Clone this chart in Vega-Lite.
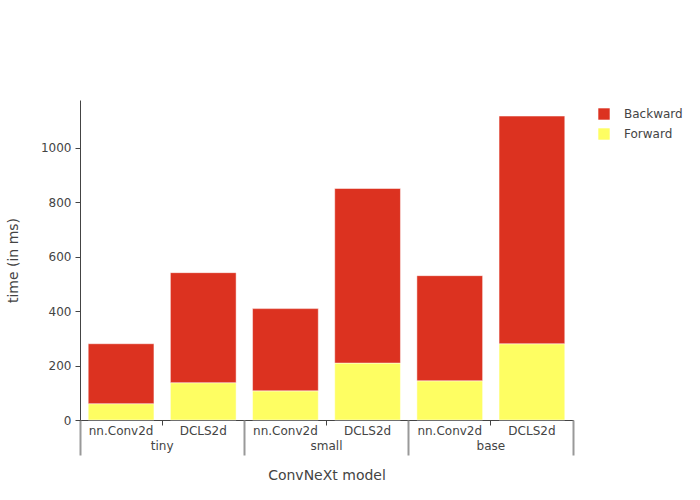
{
  "$schema": "https://vega.github.io/schema/vega-lite/v6.json",
  "width": 493,
  "height": 320,
  "autosize": {"type": "none"},
  "padding": {"left": 80, "top": 100, "right": 127, "bottom": 80},
  "background": "white",
  "config": {
    "font": "DejaVu Sans",
    "view": {"stroke": null},
    "axis": {"labelColor": "#444", "titleColor": "#444", "labelFontSize": 12, "titleFontSize": 14, "titleFontWeight": "normal", "grid": false},
    "legend": {"labelColor": "#444", "labelFontSize": 12}
  },
  "data": {
    "values": [
      {"model": "tiny", "conv": "nn.Conv2d", "bar": "tiny|nn.Conv2d", "phase": "Forward", "time": 60},
      {"model": "tiny", "conv": "nn.Conv2d", "bar": "tiny|nn.Conv2d", "phase": "Backward", "time": 220},
      {"model": "tiny", "conv": "DCLS2d", "bar": "tiny|DCLS2d", "phase": "Forward", "time": 137},
      {"model": "tiny", "conv": "DCLS2d", "bar": "tiny|DCLS2d", "phase": "Backward", "time": 404},
      {"model": "small", "conv": "nn.Conv2d", "bar": "small|nn.Conv2d", "phase": "Forward", "time": 107},
      {"model": "small", "conv": "nn.Conv2d", "bar": "small|nn.Conv2d", "phase": "Backward", "time": 302},
      {"model": "small", "conv": "DCLS2d", "bar": "small|DCLS2d", "phase": "Forward", "time": 209},
      {"model": "small", "conv": "DCLS2d", "bar": "small|DCLS2d", "phase": "Backward", "time": 641},
      {"model": "base", "conv": "nn.Conv2d", "bar": "base|nn.Conv2d", "phase": "Forward", "time": 144},
      {"model": "base", "conv": "nn.Conv2d", "bar": "base|nn.Conv2d", "phase": "Backward", "time": 386},
      {"model": "base", "conv": "DCLS2d", "bar": "base|DCLS2d", "phase": "Forward", "time": 280},
      {"model": "base", "conv": "DCLS2d", "bar": "base|DCLS2d", "phase": "Backward", "time": 836}
    ]
  },
  "layer": [
    {
      "mark": {"type": "bar", "stroke": "white", "strokeWidth": 0.8, "strokeOpacity": 0.6},
      "encoding": {
        "x": {
          "field": "bar", "type": "nominal", "sort": null,
          "scale": {"paddingInner": 0.2, "paddingOuter": 0.1},
          "axis": {
            "orient": "bottom", "title": null, "labelAngle": 0,
            "labelExpr": "split(datum.label, '|')[1]",
            "bandPosition": 1.125, "tickSize": 5, "tickColor": "#444",
            "domainColor": "#444", "labelPadding": 0
          }
        },
        "y": {
          "field": "time", "type": "quantitative", "stack": "zero",
          "scale": {"domain": [0, 1175], "nice": false},
          "axis": {
            "title": "time (in ms)", "values": [0, 200, 400, 600, 800, 1000],
            "format": "d",
            "tickSize": 5, "tickColor": "#444", "domainColor": "#444",
            "labelPadding": 4, "titlePadding": 20
          }
        },
        "color": {
          "field": "phase", "type": "nominal",
          "scale": {"domain": ["Backward", "Forward"], "range": ["#DC3220", "#FEFE62"]},
          "legend": {
            "title": null, "orient": "none", "legendX": 518, "legendY": 8,
            "symbolType": "square", "symbolSize": 130, "symbolStrokeWidth": 0,
            "symbolOpacity": 1, "labelOffset": 14, "rowPadding": 8
          }
        },
        "order": {"field": "phase", "sort": "descending"}
      }
    },
    {
      "mark": {"type": "rule", "opacity": 0},
      "encoding": {
        "x": {
          "field": "model", "type": "nominal", "sort": ["tiny", "small", "base"],
          "scale": {"paddingInner": 0, "paddingOuter": 0},
          "axis": {
            "orient": "bottom", "title": "ConvNeXt model", "labelAngle": 0,
            "domain": false, "bandPosition": 1, "tickExtra": true,
            "tickSize": 35, "tickColor": "#999", "tickWidth": 2,
            "labelPadding": -15, "titlePadding": 12
          }
        }
      }
    }
  ],
  "resolve": {"scale": {"x": "independent"}, "axis": {"x": "independent"}}
}
